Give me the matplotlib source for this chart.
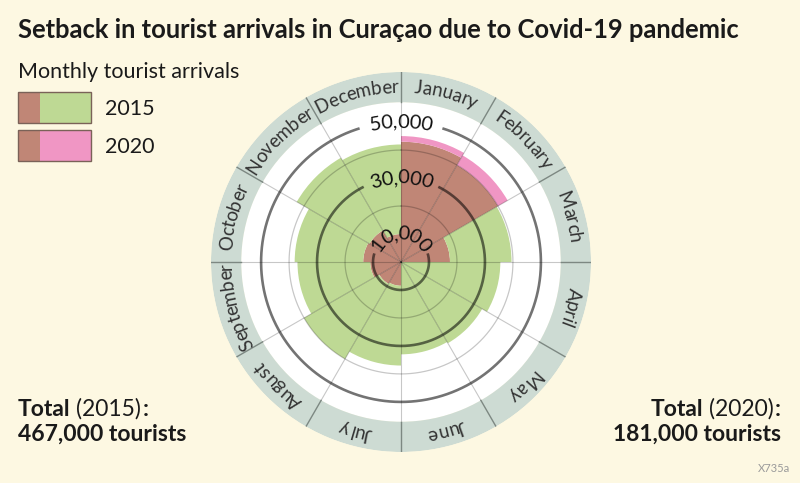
import numpy as np
import matplotlib
matplotlib.use('Agg')
import matplotlib.pyplot as plt
from matplotlib.font_manager import FontProperties
from matplotlib.patches import Rectangle

months = ['January', 'February', 'March', 'April', 'May', 'June',
          'July', 'August', 'September', 'October', 'November', 'December']
arrivals_2015 = [43000, 40000, 39500, 35500, 33500, 33000,
                 37000, 40000, 37000, 38000, 43000, 42000]
arrivals_2020 = [45000, 44000, 17500, 0, 0, 0,
                 8500, 9000, 11000, 13500, 13000, 10000]
ring_values = [10000, 20000, 30000, 40000, 50000]
labelled_rings = {10000: '10,000', 30000: '30,000', 50000: '50,000'}
total_2015 = '467,000'
total_2020 = '181,000'

bg = '#fdf8e2'
green = '#bed994'
pink = '#f096c4'
brown = '#c08676'
band = '#cddbd3'

W, H = 800, 483
r_white = 57100
r_outer = 67900

fig = plt.figure(figsize=(8, 4.83), dpi=100, facecolor=bg)
ax = fig.add_axes([211 / W, 1 - 452 / H, 380 / W, 380 / H], projection='polar')
ax.set_theta_zero_location('N')
ax.set_theta_direction(-1)
ax.set_ylim(0, r_outer)
ax.axis('off')

renderer = fig.canvas.get_renderer()


def fx(x):
    return x / W


def fy(y):
    return 1 - y / H


def text_w(s, fp):
    w, h, d = renderer.get_text_width_height_descent(s, fp, ismath=False)
    return w


def rpx(r):
    return r / r_outer * ax.get_window_extent().width / 2


def curved_text(s, r, center, fp, color):
    # place each character along the circle, clockwise, tops outward
    total = text_w(s, fp)
    start = center - total / 2 / rpx(r)
    for i, ch in enumerate(s):
        end = text_w(s[:i + 1], fp)
        cw = text_w(ch, fp)
        ang = start + (end - cw / 2) / rpx(r)
        ax.text(ang, r, ch, fontproperties=fp, color=color, ha='center',
                va='center', rotation=-np.degrees(ang), rotation_mode='anchor',
                zorder=6)
    return total / rpx(r)


# background disc and label band
ax.bar(0, r_white, width=2 * np.pi, bottom=0, color='white', linewidth=0, zorder=1)
ax.bar(0, r_outer - r_white, width=2 * np.pi, bottom=r_white, color=band,
       linewidth=0, zorder=1)

# bars
a = np.array(arrivals_2015)
b = np.array(arrivals_2020)
step = 2 * np.pi / 12
theta = np.arange(12) * step + step / 2
both = np.minimum(a, b)
ax.bar(theta, both, width=step, color=brown, linewidth=0, zorder=2)
ax.bar(theta, np.clip(a - b, 0, None), bottom=both, width=step, color=green,
       linewidth=0, zorder=2)
ax.bar(theta, np.clip(b - a, 0, None), bottom=both, width=step, color=pink,
       linewidth=0, zorder=2)

# radial lines
for k in range(12):
    t = k * step
    ax.plot([t, t], [0, r_white], color='black', alpha=0.22, lw=0.8, zorder=3)
    ax.plot([t, t], [r_white, r_outer], color='#7d8882', lw=1.0, zorder=3)

# rings and their labels
ring_fp = FontProperties(family='Lato', size=14.5)
full = np.linspace(0, 2 * np.pi, 721)
for v in ring_values:
    if v in labelled_rings:
        span = curved_text(labelled_rings[v], v, 0.0, ring_fp, '#111111')
        gap = span / 2 + 0.06 + 2.0 / rpx(v)
        arc = np.linspace(gap, 2 * np.pi - gap, 600)
        ax.plot(arc, np.full_like(arc, v), color='black', alpha=0.55, lw=1.9,
                zorder=3, solid_capstyle='butt')
    else:
        ax.plot(full, np.full_like(full, v), color='black', alpha=0.22, lw=0.9,
                zorder=3)

# month labels in the band
month_fp = FontProperties(family='Lato', size=13.5)
for k, m in enumerate(months):
    curved_text(m, (r_white + r_outer) / 2, theta[k], month_fp, '#333333')

# title and legend
fig.text(fx(18), fy(38), 'Setback in tourist arrivals in Curaçao due to Covid-19 pandemic',
         family='Lato', weight='bold', size=18.4, color='#1a1a1a', va='baseline')
fig.text(fx(18), fy(78), 'Monthly tourist arrivals', family='Lato', size=15.5,
         color='#1a1a1a', va='baseline')

for y0, col, lab in [(92, green, '2015'), (130, pink, '2020')]:
    fig.patches.append(Rectangle((fx(18), fy(y0 + 31)), 73 / W, 31 / H,
                                 transform=fig.transFigure, facecolor=col,
                                 edgecolor='none', lw=0))
    fig.patches.append(Rectangle((fx(18), fy(y0 + 31)), 22 / W, 31 / H,
                                 transform=fig.transFigure, facecolor=brown,
                                 edgecolor='none', lw=0))
    fig.patches.append(Rectangle((fx(18), fy(y0 + 31)), 73 / W, 31 / H,
                                 transform=fig.transFigure, facecolor='none',
                                 edgecolor='#7a6258', lw=1.0))
    fig.text(fx(105), fy(y0 + 23), lab, family='Lato', size=15.5,
             color='#1a1a1a', va='baseline')

# totals
bold_fp = FontProperties(family='Lato', weight='bold', size=16.5)
reg_fp = FontProperties(family='Lato', size=16.5)
space = text_w('a a', reg_fp) - text_w('aa', reg_fp)


def total_line(x, y, year, align):
    pieces = [('Total', bold_fp), ('(' + year + ')', reg_fp), (':', bold_fp)]
    widths = [text_w(p, f) for p, f in pieces]
    total = sum(widths) + space + 1
    cx = x if align == 'left' else x - total
    for (p, f), w in zip(pieces, widths):
        fig.text(fx(cx), fy(y), p, fontproperties=f, color='#1a1a1a', va='baseline')
        cx += w + (space if p == 'Total' else 1)


total_line(18, 416, '2015', 'left')
total_line(781, 416, '2020', 'right')
fig.text(fx(18), fy(441), total_2015 + ' tourists', fontproperties=bold_fp,
         color='#1a1a1a', va='baseline')
fig.text(fx(781), fy(441), total_2020 + ' tourists', fontproperties=bold_fp,
         color='#1a1a1a', va='baseline', ha='right')
fig.text(fx(790), fy(472), 'X735a', family='Lato', size=8, color='#9a9a9a',
         va='baseline', ha='right')

fig.savefig('out.png', dpi=100, facecolor=bg)
